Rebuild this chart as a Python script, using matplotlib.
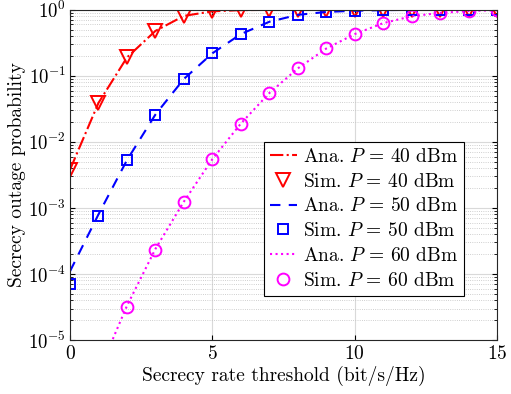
import matplotlib
matplotlib.use("Agg")
import matplotlib.pyplot as plt
import numpy as np

plt.rcParams.update({
    "font.family": "cmr10",
    "mathtext.fontset": "cm",
    "axes.formatter.use_mathtext": True,
    "font.size": 14,
    "xtick.direction": "in",
    "ytick.direction": "in",
    "xtick.top": True,
    "ytick.right": True,
})

# secrecy rate threshold (bit/s/Hz)
rate = np.arange(0, 16)

# analytical curves
ana_40 = [3.8e-3, 0.039, 0.19, 0.48, 0.81, 0.95, 0.99, 1.0, 1.0, 1.0, 1.0, 1.0, 1.0, 1.0, 1.0, 1.0]
ana_50 = [1.1e-4, 8.0e-4, 5.3e-3, 0.026, 0.09, 0.22, 0.43, 0.66, 0.84, 0.93, 0.97, 0.99, 1.0, 1.0, 1.0, 1.0]
ana_60 = [3.0e-7, 3.2e-6, 3.3e-5, 2.4e-4, 1.25e-3, 5.5e-3, 0.019, 0.055, 0.13, 0.26, 0.43, 0.63, 0.8, 0.9, 0.96, 0.99]

# simulation points
sim_40 = [3.8e-3, 0.039, 0.19, 0.48, 0.81, 0.95, 0.99, 1.0, 1.0, 1.0, 1.0, 1.0, 1.0, 1.0, 1.0, 1.0]
sim_50 = [7.1e-5, 7.6e-4, 5.3e-3, 0.026, 0.09, 0.22, 0.43, 0.66, 0.84, 0.93, 0.97, 0.99, 1.0, 1.0, 1.0, 1.0]
sim_60 = [np.nan, np.nan, 3.2e-5, 2.3e-4, 1.25e-3, 5.5e-3, 0.019, 0.055, 0.13, 0.26, 0.43, 0.63, 0.8, 0.9, 0.96, 0.99]

fig = plt.figure(figsize=(5.11, 3.94), dpi=100)
ax = fig.add_axes([0.137, 0.137, 0.836, 0.838])

ax.semilogy(rate, ana_40, "-.", color="red", lw=1.5, label=r"Ana. $P\,=\,40$ dBm")
ax.semilogy(rate, sim_40, "v", color="red", mfc="none", ms=9.5, mew=1.4, label=r"Sim. $P\,=\,40$ dBm")
ax.semilogy(rate, ana_50, "--", color="blue", lw=1.5, dashes=(5, 4), label=r"Ana. $P\,=\,50$ dBm")
ax.semilogy(rate, sim_50, "s", color="blue", mfc="none", ms=7, mew=1.4, label=r"Sim. $P\,=\,50$ dBm")
ax.semilogy(rate, ana_60, ":", color="magenta", lw=1.5, label=r"Ana. $P\,=\,60$ dBm")
ax.semilogy(rate, sim_60, "o", color="magenta", mfc="none", ms=8.5, mew=1.4, label=r"Sim. $P\,=\,60$ dBm")

ax.set_xlim(0, 15)
ax.set_ylim(1e-5, 1)
ax.set_xticks([0, 5, 10, 15])
ax.tick_params(axis="y", labelsize=13.5, pad=3)
ax.grid(True, which="major", color="0.85", lw=0.8)
ax.grid(True, which="minor", color="0.75", lw=0.6, ls=":")
ax.set_axisbelow(True)
for s in ax.spines.values():
    s.set_color("0.15")

ax.set_xlabel("Secrecy rate threshold (bit/s/Hz)", labelpad=2)
ax.set_ylabel("Secrecy outage probability", labelpad=1)

leg = ax.legend(loc="upper left", bbox_to_anchor=(0.454, 0.6), fancybox=False,
                edgecolor="black", framealpha=1, handlelength=1.4, handletextpad=0.3,
                borderpad=0.3, labelspacing=0.35, borderaxespad=0)
leg.get_frame().set_linewidth(0.8)

fig.savefig("out.png", dpi=100)
